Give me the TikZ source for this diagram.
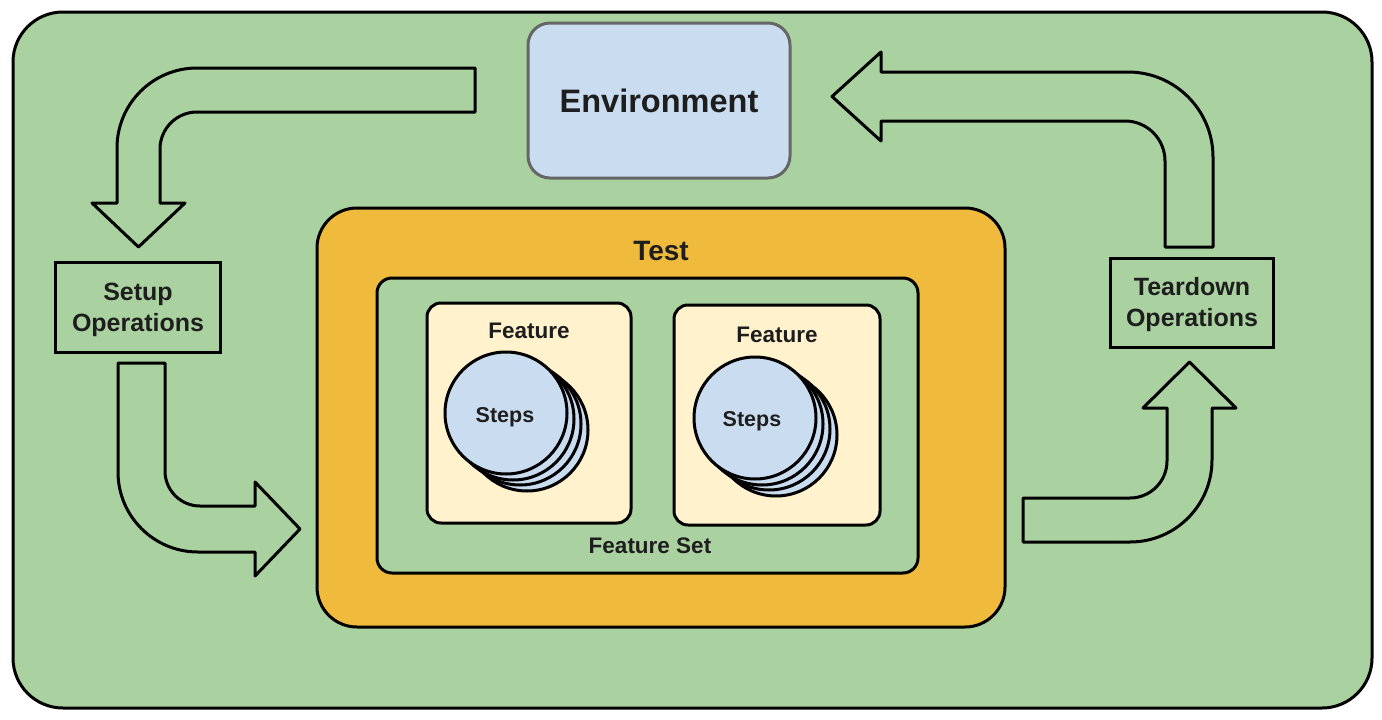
\documentclass[tikz,border=0pt]{standalone}
\usepackage{fontspec}
\setmainfont{Liberation Sans}
\definecolor{bggreen}{HTML}{AAD1A0}
\definecolor{envblue}{HTML}{C9DCF0}
\definecolor{testorange}{HTML}{F0BA3C}
\definecolor{featyellow}{HTML}{FFF2CC}
\definecolor{envgray}{HTML}{666666}
\definecolor{txt}{HTML}{1E1E1E}
\begin{document}
\begin{tikzpicture}[x=1pt,y=-1pt,
  box/.style={draw=black,line width=3pt,inner sep=0pt,text=txt,font=\bfseries},
  bigarrow/.style={draw=black,fill=bggreen,line width=3pt,line join=round},
  stepcircle/.style={draw=black,fill=envblue,line width=3pt},
  lbl/.style={text=txt,font=\bfseries,inner sep=0pt}]
\useasboundingbox (0,0) rectangle (1382,720);
% outer frame
\draw[fill=bggreen,line width=3pt,rounded corners=50pt] (13,12) rectangle (1372,708);
% environment
\node[box,draw=envgray,fill=envblue,rounded corners=22pt,minimum width=262pt,minimum height=155pt,font=\fontsize{32.5}{36}\bfseries] (env) at (659,100.5) {Environment};
% setup / teardown
\node[box,fill=bggreen,minimum width=165pt,minimum height=90pt] (setup) at (137.5,307) {};
\node[lbl,align=center,font=\fontsize{25}{31}\bfseries] (setuplbl) at (138,310) {Setup\\Operations};
\node[box,fill=bggreen,minimum width=163pt,minimum height=89pt] (teardown) at (1191.5,302.5) {};
\node[lbl,align=center,font=\fontsize{25}{31}\bfseries] (teardownlbl) at (1192,305) {Teardown\\Operations};
% test
\node[box,fill=testorange,rounded corners=40pt,minimum width=688pt,minimum height=419pt] (test) at (661,417.5) {};
\node[lbl,font=\fontsize{28}{32}\bfseries] (testlbl) at (661,251) {Test};
% feature set
\node[box,fill=bggreen,rounded corners=15pt,minimum width=541pt,minimum height=295pt] (fset) at (647.5,425.5) {};
\node[lbl,font=\fontsize{22.5}{26}\bfseries] (fsetlbl) at (650,546) {Feature Set};
% features
\node[box,fill=featyellow,rounded corners=14pt,minimum width=204pt,minimum height=220pt] (feat1) at (529,413) {};
\node[box,fill=featyellow,rounded corners=14pt,minimum width=206pt,minimum height=220pt] (feat2) at (777,415) {};
\node[lbl,font=\fontsize{22.5}{26}\bfseries] (feat1lbl) at (529,331) {Feature};
\node[lbl,font=\fontsize{22.5}{26}\bfseries] (feat2lbl) at (777,335) {Feature};
% steps stacks
\foreach \cx/\cy/\nm in {506/413/a,755/418/b}{
  \draw[stepcircle] (\cx+21,\cy+17) circle[radius=61pt];
  \draw[stepcircle] (\cx+14,\cy+11) circle[radius=61pt];
  \draw[stepcircle] (\cx+7,\cy+6) circle[radius=61pt];
  \draw[stepcircle] (\cx,\cy) circle[radius=61pt];
}
\node[lbl,font=\fontsize{21.5}{24}\bfseries] (steps1) at (505,417.5) {Steps};
\node[lbl,font=\fontsize{21.5}{24}\bfseries] (steps2) at (752,421.5) {Steps};
% arrow: environment -> setup
\draw[bigarrow] (475,68) -- (197,68) .. controls (152.8,68) and (117,103.8) .. (117,148)
  -- (117,203) -- (92,203) -- (138.5,247) -- (185,203) -- (160,203) -- (160,149)
  .. controls (160,128.6) and (176.6,112) .. (197,112) -- (475,112) -- cycle;
% arrow: setup -> test
\draw[bigarrow] (118,363) -- (165,363) -- (165,471) .. controls (165,490.3) and (180.7,506) .. (200,506)
  -- (255,506) -- (255,482) -- (300,529) -- (255,576) -- (255,552) -- (198,552)
  .. controls (153.8,552) and (118,516.2) .. (118,472) -- cycle;
% arrow: teardown -> environment
\draw[bigarrow] (1165,247) -- (1213,247) -- (1213,157) .. controls (1213,110.1) and (1174.9,72) .. (1128,72)
  -- (881,72) -- (881,52) -- (832,96.5) -- (881,141) -- (881,121) -- (1125,121)
  .. controls (1147.1,121) and (1165,138.9) .. (1165,161) -- cycle;
% arrow: test -> teardown
\draw[bigarrow] (1023,498) -- (1130,498) .. controls (1150.4,498) and (1167,481.4) .. (1167,461)
  -- (1167,408) -- (1143,408) -- (1189.5,362) -- (1236,408) -- (1212,408) -- (1212,460)
  .. controls (1212,505.3) and (1175.3,542) .. (1130,542) -- (1023,542) -- cycle;
\end{tikzpicture}
\end{document}
